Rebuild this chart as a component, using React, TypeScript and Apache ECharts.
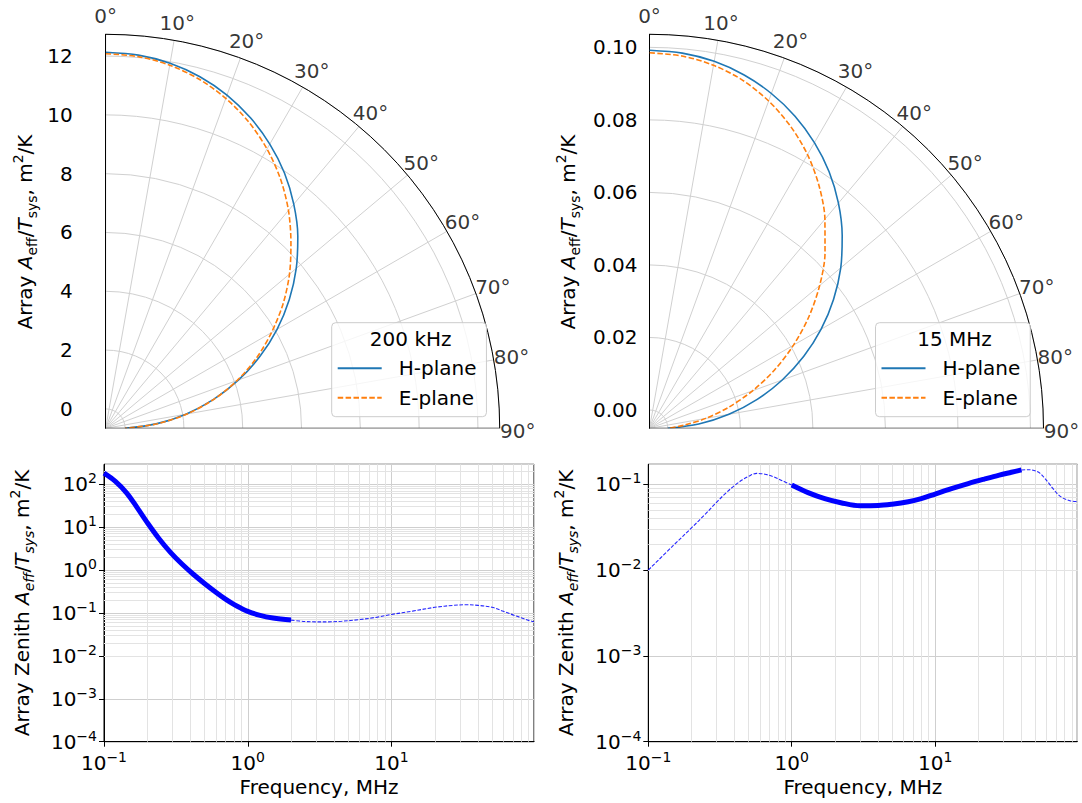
import React, { useEffect, useRef } from 'react';
import * as echarts from 'echarts';

const FONT = "'DejaVu Sans', sans-serif";

// ---------- Polar panels (top) ----------
const thetaDeg = [0, 5, 10, 15, 20, 25, 30, 35, 40, 45, 50, 55, 60, 65, 70, 75, 80, 85, 90];
const angleTicks = [0, 10, 20, 30, 40, 50, 60, 70, 80, 90];
const hPlane200k = [12.13, 12.08, 11.95, 11.72, 11.4, 10.99, 10.5, 9.94, 9.29, 8.58, 7.8, 6.96, 6.07, 5.13, 4.15, 3.14, 2.11, 1.06, 0];
const ePlane200k = [12.08, 12.03, 11.88, 11.63, 11.28, 10.84, 10.31, 9.7, 9.01, 8.25, 7.5, 6.7, 5.85, 5.0, 4.1, 3.15, 2.15, 1.1, 0];
const hPlane15M = [0.0992, 0.0988, 0.0977, 0.0958, 0.0932, 0.0899, 0.0859, 0.0813, 0.076, 0.0701, 0.0638, 0.0569, 0.0496, 0.0419, 0.0339, 0.0257, 0.0172, 0.0086, 0];
const ePlane15M = [0.0985, 0.098, 0.0966, 0.0943, 0.091, 0.0869, 0.0821, 0.0765, 0.0702, 0.0634, 0.0562, 0.0486, 0.0408, 0.033, 0.0252, 0.0177, 0.0107, 0.0044, 0];
const rLimits200k = [-0.66, 12.74];
const rLimits15M = [-0.00505, 0.1036];
const legendTitles = ['200 kHz', '15 MHz'];
const legendNames = ['H-plane', 'E-plane'];

// ---------- Zenith panels (bottom) ----------
const lowThickF = [0.1, 0.12, 0.144, 0.17, 0.2, 0.24, 0.29, 0.35, 0.42, 0.5, 0.6, 0.7, 0.8, 0.9, 1.0, 1.2, 1.5, 2.0];
const lowThickV = [180, 116, 62, 28.4, 12.7, 5.5, 2.58, 1.36, 0.785, 0.486, 0.303, 0.209, 0.158, 0.128, 0.109, 0.089, 0.076, 0.068];
const lowDashF = [2, 2.5, 3, 3.6, 4.5, 6, 8, 10, 14, 20, 27, 33, 40, 50, 60, 70, 80, 90, 98];
const lowDashV = [0.068, 0.063, 0.062, 0.062, 0.064, 0.07, 0.08, 0.092, 0.11, 0.135, 0.15, 0.155, 0.15, 0.135, 0.109, 0.09, 0.077, 0.067, 0.062];

const highDashAF = [0.1, 0.15, 0.2, 0.25, 0.3, 0.35, 0.4, 0.45, 0.5, 0.57, 0.65, 0.75, 0.85, 1.0];
const highDashAV = [0.01, 0.0195, 0.031, 0.045, 0.062, 0.08, 0.097, 0.112, 0.124, 0.134, 0.131, 0.122, 0.111, 0.098];
const highThickF = [1.0, 1.3, 1.7, 2.2, 3.0, 4.0, 5.0, 6.5, 8, 10, 13, 17, 22, 28, 34, 40];
const highThickV = [0.098, 0.08, 0.068, 0.061, 0.0562, 0.0565, 0.0585, 0.0625, 0.068, 0.077, 0.089, 0.102, 0.115, 0.128, 0.138, 0.147];
const highDashBF = [40, 45, 49, 54, 58, 62, 66, 72, 78, 88, 98];
const highDashBV = [0.147, 0.148, 0.145, 0.134, 0.118, 0.103, 0.09, 0.076, 0.069, 0.064, 0.063];

const freqLimits = [0.1, 98];
const zenithLimitsLow = [1e-4, 290];
const zenithLimitsHigh = [1e-4, 0.171];

function minorValues(lo: number, hi: number): number[] {
  const out: number[] = [];
  for (let e = -6; e <= 3; e++) {
    for (let m = 2; m <= 9; m++) {
      const v = Number((m * Math.pow(10, e)).toPrecision(3));
      if (v > lo && v < hi) out.push(v);
    }
  }
  return out;
}

const pair = (xs: number[], ys: number[]) => xs.map((x, i) => [x, ys[i]]);
const polarPair = (rs: number[]) => rs.map((r, i) => [r, thetaDeg[i]]);

const pow10Label = (v: number) => {
  const e = Math.round(Math.log10(v));
  return `10{sup|${e < 0 ? '\u2212' + -e : e}}`;
};

const richSup = { fontSize: 14, fontFamily: FONT, color: '#000', verticalAlign: 'top', lineHeight: 14 };

const titleRich = {
  it: { fontSize: 20, fontFamily: FONT, fontStyle: 'italic', color: '#000', fill: '#000', lineHeight: 28 },
  sub: { fontSize: 14, fontFamily: FONT, color: '#000', fill: '#000', verticalAlign: 'bottom', lineHeight: 14 },
  subi: { fontSize: 14, fontFamily: FONT, fontStyle: 'italic', color: '#000', fill: '#000', verticalAlign: 'bottom', lineHeight: 14 },
  sup: { fontSize: 14, fontFamily: FONT, color: '#000', fill: '#000', verticalAlign: 'top', lineHeight: 14 },
};

const polarTitle = 'Array {it|A}{sub|eff}/{it|T}{sub|sys}, m{sup|2}/K';
const zenithTitle = 'Array Zenith {it|A}{subi|eff}/{it|T}{subi|sys}, m{sup|2}/K';

const BLUE = '#1f77b4';
const ORANGE = '#ff7f0e';
const POLAR_GRID = '#d0d0d0';
const ANGLE_LABEL_PAD = 18;

function buildOption() {
  const polarCenters = [[105.7, 428.3], [649.5, 428.3]];
  const rLimits = [rLimits200k, rLimits15M];
  const rSplit = [7, 5];
  const rMargin = [33, 12];
  const rFmt = [(v: number) => String(Math.round(v)), (v: number) => v.toFixed(2)];
  const hData = [hPlane200k, hPlane15M];
  const eData = [ePlane200k, ePlane15M];
  const legendLeft = [331.7, 875.5];

  const series: any[] = [];
  [0, 1].forEach((i) => {
    series.push({
      type: 'line', coordinateSystem: 'polar', polarIndex: i, name: legendNames[0],
      data: polarPair(hData[i]), symbol: 'none', showSymbol: false, smooth: 0.3, z: 3,
      lineStyle: { color: BLUE, width: 1.6 }, itemStyle: { color: BLUE },
    });
    series.push({
      type: 'line', coordinateSystem: 'polar', polarIndex: i, name: legendNames[1],
      data: polarPair(eData[i]), symbol: 'none', showSymbol: false, smooth: 0.3, z: 3,
      lineStyle: { color: ORANGE, width: 1.6, type: [5.5, 2.4] }, itemStyle: { color: ORANGE },
    });
    series.push({
      type: 'line', coordinateSystem: 'polar', polarIndex: i, name: 'frame' + i, silent: true,
      data: [[rLimits[i][0], 90], [rLimits[i][1], 90]], symbol: 'none', z: 4,
      lineStyle: { color: '#000', width: 1 },
    });
    // angle tick labels, centred just outside the outer arc (matplotlib style)
    series.push({
      type: 'scatter', coordinateSystem: 'polar', polarIndex: i, name: 'angles' + i, silent: true,
      symbol: 'circle', symbolSize: 1, itemStyle: { color: 'rgba(0,0,0,0)' }, z: 6,
      data: angleTicks.map((t) => ({
        value: [rLimits[i][1], t],
        label: {
          offset: [
            ANGLE_LABEL_PAD * Math.sin((t * Math.PI) / 180),
            -ANGLE_LABEL_PAD * Math.cos((t * Math.PI) / 180) + (t === 90 ? 3 : 0),
          ],
        },
      })),
      label: {
        show: true, position: 'inside', fontSize: 20, fontFamily: FONT, color: '#000',
        formatter: (p: any) => `${p.value[1]}°`,
      },
    });
  });

  const zLimits = [zenithLimitsLow, zenithLimitsHigh];
  [0, 1].forEach((g) => {
    const minorX = minorValues(freqLimits[0], freqLimits[1]);
    const minorY = minorValues(zLimits[g][0], zLimits[g][1]);
    series.push({
      type: 'line', xAxisIndex: g, yAxisIndex: g, name: 'grid' + g, data: [], silent: true, z: 1,
      markLine: {
        z: 1, silent: true, symbol: ['none', 'none'], label: { show: false }, animation: false,
        lineStyle: { color: '#e3e3e3', width: 1, type: 'solid' },
        emphasis: { disabled: true },
        data: [...minorX.map((v) => ({ xAxis: v })), ...minorY.map((v) => ({ yAxis: v }))],
      },
    });
  });

  const thick = (g: number, xs: number[], ys: number[], name: string) => ({
    type: 'line', xAxisIndex: g, yAxisIndex: g, name, data: pair(xs, ys), symbol: 'none', z: 10,
    smooth: 0.35, lineStyle: { color: '#0000ff', width: 5, cap: 'butt' },
  });
  const dashed = (g: number, xs: number[], ys: number[], name: string) => ({
    type: 'line', xAxisIndex: g, yAxisIndex: g, name, data: pair(xs, ys), symbol: 'none', z: 10,
    smooth: 0.35, lineStyle: { color: '#0000ff', width: 1.1, type: [3.7, 1.6], opacity: 0.85 },
  });
  series.push(thick(0, lowThickF, lowThickV, 'low-thick'));
  series.push(dashed(0, lowDashF, lowDashV, 'low-dash'));
  series.push(dashed(1, highDashAF, highDashAV, 'high-dashA'));
  series.push(thick(1, highThickF, highThickV, 'high-thick'));
  series.push(dashed(1, highDashBF, highDashBV, 'high-dashB'));

  const gridLefts = [104, 648.3];
  const gridWidths = [430, 429];

  return {
    animation: false,
    backgroundColor: '#ffffff',
    textStyle: { fontFamily: FONT },
    polar: polarCenters.map((c) => ({ center: c, radius: 394 })),
    angleAxis: [0, 1].map((i) => ({
      polarIndex: i, type: 'value', min: 0, max: 90, interval: 10,
      startAngle: 90, endAngle: 0, clockwise: true,
      axisLine: { show: true, lineStyle: { color: '#000', width: 1 } },
      axisTick: { show: false },
      axisLabel: { show: false },
      splitLine: { show: true, lineStyle: { color: POLAR_GRID, width: 1 } },
    })),
    radiusAxis: [0, 1].map((i) => ({
      polarIndex: i, type: 'value', min: rLimits[i][0], max: rLimits[i][1], splitNumber: rSplit[i],
      axisLine: { show: true, lineStyle: { color: '#000', width: 1 } },
      axisTick: { show: false },
      axisLabel: {
        fontSize: 20, fontFamily: FONT, color: '#000', margin: rMargin[i],
        showMinLabel: false, showMaxLabel: false, formatter: rFmt[i],
      },
      splitLine: { show: true, lineStyle: { color: POLAR_GRID, width: 1 } },
    })),
    grid: [0, 1].map((g) => ({
      left: gridLefts[g], top: 464.3, width: gridWidths[g], height: 277.4,
      show: true, borderColor: '#000', borderWidth: 1, backgroundColor: 'transparent',
      containLabel: false, outerBoundsMode: 'none',
    })),
    xAxis: [0, 1].map((g) => ({
      gridIndex: g, type: 'log', logBase: 10, min: freqLimits[0], max: freqLimits[1],
      name: 'Frequency, MHz', nameLocation: 'middle', nameGap: 35,
      nameTextStyle: { fontSize: 20, fontFamily: FONT, color: '#000' },
      axisLine: { show: true, onZero: false, lineStyle: { color: '#000', width: 1 } },
      axisTick: { show: true, length: 5, lineStyle: { color: '#000' } },
      axisLabel: {
        fontSize: 20, fontFamily: FONT, color: '#000', margin: 8, lineHeight: 26,
        showMaxLabel: false, formatter: pow10Label, rich: { sup: richSup },
      },
      splitLine: { show: true, lineStyle: { color: '#cfcfcf', width: 1 } },
    })),
    yAxis: [0, 1].map((g) => ({
      gridIndex: g, type: 'log', logBase: 10, min: zLimits[g][0], max: zLimits[g][1],
      name: zenithTitle, nameLocation: 'middle', nameGap: 68,
      nameTextStyle: { fontSize: 20, fontFamily: FONT, color: '#000', lineHeight: 28, rich: titleRich },
      axisLine: { show: true, onZero: false, lineStyle: { color: '#000', width: 1 } },
      axisTick: { show: true, length: 5, lineStyle: { color: '#000' } },
      axisLabel: {
        fontSize: 20, fontFamily: FONT, color: '#000', margin: 7, lineHeight: 26,
        showMaxLabel: false, formatter: pow10Label, rich: { sup: richSup },
      },
      splitLine: { show: true, lineStyle: { color: '#cfcfcf', width: 1 } },
    })),
    legend: [0, 1].map((i) => ({
      data: legendNames, orient: 'vertical', left: legendLeft[i], top: 322.7,
      padding: [35.6, 10, 9, 5], itemWidth: 44, itemHeight: 14, itemGap: 9.4,
      backgroundColor: 'rgba(255,255,255,0.8)', borderColor: '#cccccc', borderWidth: 1, borderRadius: 4,
      itemStyle: { opacity: 0 },
      formatter: (name: string) => `{t|${name}}`,
      textStyle: {
        fontSize: 20, fontFamily: FONT, color: '#000', lineHeight: 20,
        rich: { t: { fontSize: 20, fontFamily: FONT, color: '#000', lineHeight: 20, padding: [0, 0, 0, 12] } },
      },
      selectedMode: false, z: 5,
    })),
    graphic: [
      ...[0, 1].map((i) => ({
        type: 'text', x: legendLeft[i] + 79, y: 339.3, z: 10,
        style: { text: legendTitles[i], fontSize: 20, fontFamily: FONT, fill: '#000', align: 'center', verticalAlign: 'middle' },
      })),
      ...[25, 568].map((x) => ({
        type: 'text', x, y: 232, rotation: Math.PI / 2, z: 10,
        style: {
          text: polarTitle, fontSize: 20, fontFamily: FONT, fill: '#000', lineHeight: 28,
          align: 'center', verticalAlign: 'middle', rich: titleRich,
        },
      })),
    ],
    series,
  };
}

export default function App() {
  const ref = useRef<HTMLDivElement>(null);
  useEffect(() => {
    if (!ref.current) return;
    const chart = echarts.init(ref.current, undefined, { renderer: 'svg' });
    chart.setOption(buildOption() as any);
    return () => chart.dispose();
  }, []);
  return (
    <div
      ref={ref}
      style={{ position: 'absolute', left: 0, top: 0, width: 1082, height: 803, background: '#fff' }}
    />
  );
}
